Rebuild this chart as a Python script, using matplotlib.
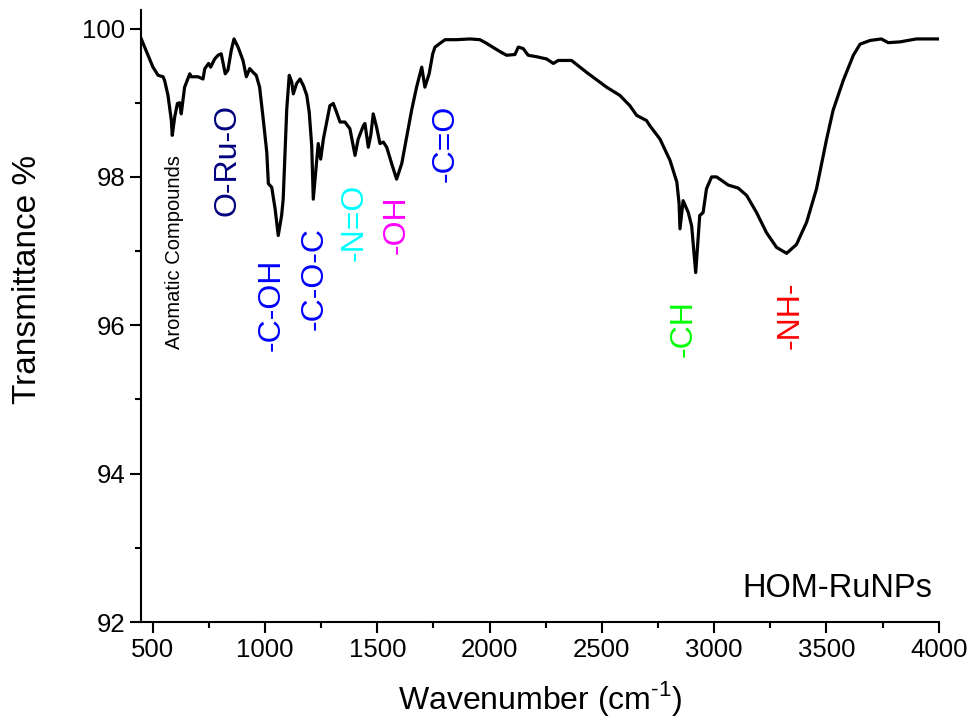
import matplotlib
matplotlib.use("Agg")
import matplotlib.pyplot as plt
from matplotlib.ticker import MultipleLocator

plt.rcParams['font.family'] = ['Liberation Sans', 'DejaVu Sans']
plt.rcParams['mathtext.fontset'] = 'custom'
plt.rcParams['mathtext.rm'] = 'Liberation Sans'

wavenumber = [449, 464, 501, 524, 546, 553, 568, 583, 587, 598, 610, 620, 627, 642, 665, 672,
              702, 724, 732, 749, 758, 776, 791, 805, 823, 835, 850, 862, 880, 902, 917, 932,
              947, 961, 976, 991, 1008, 1015, 1030, 1045, 1059, 1074, 1081, 1097, 1108, 1119,
              1126, 1141, 1156, 1171, 1186, 1197, 1208, 1215, 1227, 1237, 1248, 1260, 1275,
              1289, 1304, 1319, 1334, 1356, 1378, 1401, 1415, 1438, 1445, 1460, 1471, 1482,
              1497, 1512, 1527, 1542, 1564, 1586, 1609, 1631, 1653, 1675, 1698, 1712, 1731,
              1747, 1757, 1779, 1802, 1853, 1913, 1957, 1987, 2046, 2076, 2113, 2128, 2150,
              2172, 2210, 2254, 2284, 2306, 2365, 2432, 2521, 2580, 2625, 2655, 2699, 2714,
              2759, 2804, 2834, 2844, 2848, 2862, 2885, 2900, 2918, 2936, 2951, 2966, 2989,
              3011, 3063, 3107, 3145, 3189, 3233, 3278, 3323, 3367, 3412, 3456, 3501, 3530,
              3575, 3620, 3650, 3695, 3745, 3775, 3827, 3901, 3998]
transmittance = [99.86, 99.75, 99.48, 99.37, 99.35, 99.30, 99.10, 98.76, 98.56, 98.81, 98.99,
                 99.00, 98.85, 99.21, 99.39, 99.35, 99.35, 99.32, 99.46, 99.53, 99.48, 99.59,
                 99.64, 99.66, 99.39, 99.44, 99.71, 99.86, 99.75, 99.57, 99.35, 99.46, 99.41,
                 99.37, 99.21, 98.81, 98.33, 97.91, 97.86, 97.57, 97.21, 97.48, 97.70, 98.92,
                 99.37, 99.28, 99.12, 99.26, 99.32, 99.23, 99.10, 98.87, 98.42, 97.70, 98.11,
                 98.45, 98.24, 98.51, 98.74, 98.96, 98.99, 98.87, 98.74, 98.74, 98.65, 98.29,
                 98.51, 98.69, 98.72, 98.40, 98.56, 98.85, 98.67, 98.45, 98.47, 98.40, 98.18,
                 97.97, 98.18, 98.54, 98.90, 99.21, 99.48, 99.21, 99.39, 99.66, 99.75, 99.80,
                 99.85, 99.85, 99.86, 99.85, 99.80, 99.69, 99.64, 99.65, 99.75, 99.73, 99.64,
                 99.62, 99.59, 99.53, 99.57, 99.57, 99.41, 99.21, 99.10, 98.96, 98.83, 98.76,
                 98.69, 98.51, 98.22, 97.93, 97.64, 97.30, 97.68, 97.52, 97.34, 96.71, 97.48,
                 97.52, 97.84, 98.00, 98.00, 97.89, 97.85, 97.75, 97.52, 97.25, 97.05, 96.97,
                 97.09, 97.39, 97.84, 98.51, 98.90, 99.30, 99.64, 99.79, 99.84, 99.86, 99.81,
                 99.82, 99.86, 99.86]

labels = ['Aromatic Compounds', 'O-Ru-O', '-C-OH', '-C-O-C', '-N=O', '-OH', '-C=O', '-CH', '-NH-']
label_x = [599, 835, 1031, 1223, 1401, 1588, 1806, 2865, 3342]
label_y = [96.99, 98.23, 96.27, 96.63, 97.39, 97.36, 98.45, 95.96, 96.14]
label_colors = ['black', '#000080', '#0000FF', '#0000FF', '#00FFFF', '#FF00FF', '#0000FF',
                '#00FF00', '#FF0000']
label_sizes = [14.5, 23, 23, 23, 23, 23, 23, 23, 23]

x_ticks = [500, 1000, 1500, 2000, 2500, 3000, 3500, 4000]
y_ticks = [92, 94, 96, 98, 100]

fig = plt.figure(figsize=(9.7, 7.2), dpi=100)
ax = fig.add_axes([0.1454, 0.1361, 0.8223, 0.85])
ax.plot(wavenumber, transmittance, color='black', lw=2.3)

for t, x, y, c, s in zip(labels, label_x, label_y, label_colors, label_sizes):
    ax.text(x, y, t, rotation=90, color=c, fontsize=s, ha='center', va='center')

ax.text(0.992, 0.054, 'HOM-RuNPs', transform=ax.transAxes, ha='right', va='center',
        fontsize=23.5)

ax.set_xlim(448, 4000)
ax.set_ylim(92, 100.25)
ax.set_xticks(x_ticks)
ax.set_yticks(y_ticks)
ax.xaxis.set_minor_locator(MultipleLocator(250))
ax.yaxis.set_minor_locator(MultipleLocator(1))
ax.tick_params(which='major', direction='out', length=8, width=1.5, labelsize=18.5)
ax.tick_params(which='minor', direction='out', length=4, width=1.5)
for side in ['top', 'right']:
    ax.spines[side].set_visible(False)
for side in ['left', 'bottom']:
    ax.spines[side].set_linewidth(1.5)

ax.set_xlabel('Wavenumber (cm$^{\\text{-1}}$)', fontsize=23, va='center')
ax.xaxis.set_label_coords(0.5, -0.125)
ax.set_ylabel('Transmittance %', fontsize=24, va='center')
ax.yaxis.set_label_coords(-0.142, 0.56)

fig.savefig('out.png', dpi=100)
